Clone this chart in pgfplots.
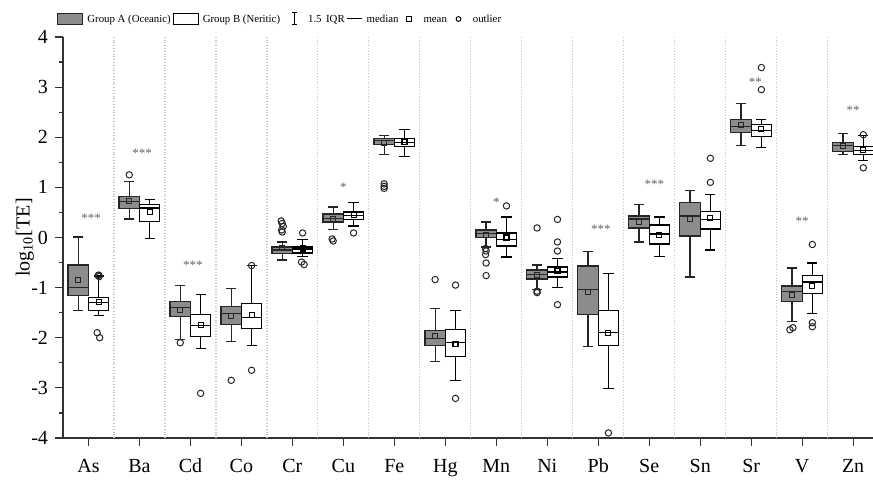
\documentclass[border=0pt]{standalone}
\usepackage{fontspec}
\setmainfont{Liberation Serif}
\usepackage{pgfplots}
\usepackage{pgfplotstable}
\pgfplotsset{compat=1.18}
\usepgfplotslibrary{statistics}
\definecolor{boxA}{RGB}{140,140,140}
\definecolor{starc}{RGB}{100,100,100}
\definecolor{divider}{RGB}{195,195,195}
\pgfplotsset{
  Abox/.style={draw=black!85, line width=0.6pt, fill=boxA, boxplot/draw direction=y, boxplot/box extend=0.4, boxplot/whisker extend=0.2},
  Bbox/.style={draw=black, line width=0.6pt, fill=white, boxplot/draw direction=y, boxplot/box extend=0.4, boxplot/whisker extend=0.2},
}
% style, position, lower whisker, lower quartile, median, upper quartile, upper whisker
\newcommand{\bp}[7]{\addplot[#1, forget plot, boxplot prepared={draw position=#2, lower whisker=#3, lower quartile=#4, median=#5, upper quartile=#6, upper whisker=#7}] coordinates {};}

\pgfplotstableread{
x y
-0.2 -0.85
0.8 0.72
1.8 -1.45
2.8 -1.56
3.8 -0.21
4.8 0.36
5.8 1.88
6.8 -1.97
7.8 0.05
8.8 -0.74
9.8 -1.09
10.8 0.31
11.8 0.36
12.8 2.24
13.8 -1.14
14.8 1.82
}\meanA
\pgfplotstableread{
x y
0.2 -1.29
1.2 0.50
2.2 -1.75
3.2 -1.54
4.2 -0.22
5.2 0.44
6.2 1.90
7.2 -2.12
8.2 0.00
9.2 -0.67
10.2 -1.90
11.2 0.05
12.2 0.39
13.2 2.16
14.2 -0.96
15.2 1.74
}\meanB
\pgfplotstableread{
x y
0.8 1.25
1.8 -2.10
2.8 -2.85
3.78 0.33
3.80 0.28
3.82 0.22
3.79 0.15
3.80 0.11
4.78 -0.03
4.80 -0.07
5.80 1.07
5.80 1.02
5.80 0.98
6.8 -0.84
7.79 -0.22
7.80 -0.27
7.79 -0.34
7.80 -0.51
7.80 -0.76
8.8 0.19
8.8 -1.07
8.8 -1.10
13.76 -1.84
13.82 -1.80
}\outA
\pgfplotstableread{
x y
0.20 -0.75
0.21 -0.78
0.19 -0.76
0.17 -1.90
0.22 -2.00
2.2 -3.11
3.2 -0.56
3.2 -2.65
4.2 0.09
4.18 -0.49
4.23 -0.54
5.2 0.09
7.2 -0.95
7.2 -3.21
8.2 0.63
9.2 0.36
9.2 -0.09
9.2 -0.27
9.2 -1.34
10.2 -3.90
12.2 1.58
12.2 1.10
13.2 3.39
13.2 2.95
14.2 -0.14
14.2 -1.70
14.2 -1.78
15.2 2.05
15.2 1.39
}\outB
\pgfplotstableread{
x y s
0.05 0.38 {***}
1.05 1.68 {***}
2.05 -0.55 {***}
5.0 1.00 {*}
8.0 0.71 {*}
10.05 0.16 {***}
11.1 1.06 {***}
13.08 3.09 {**}
14.0 0.33 {**}
15.0 2.54 {**}
}\stars

\begin{document}
\begin{tikzpicture}
\begin{axis}[
  name=ax,
  scale only axis,
  width=405pt, height=200.5pt,
  xmin=-0.5, xmax=15.39,
  ymin=-4, ymax=4,
  axis x line*=bottom, axis y line*=left,
  axis line style={line width=0.6pt, draw=black!80},
  xtick={0,...,15},
  xticklabels={As,Ba,Cd,Co,Cr,Cu,Fe,Hg,Mn,Ni,Pb,Se,Sn,Sr,V,Zn},
  ytick={-4,...,4},
  minor y tick num=1,
  tick align=outside,
  major tick length=4pt, minor tick length=2.2pt,
  tick style={line width=0.6pt, draw=black!80},
  extra x ticks={0.5,1.5,...,14.5},
  extra x tick labels={},
  extra x tick style={grid=major, major tick length=0pt, major grid style={densely dotted, draw=divider, line width=0.6pt}},
  /pgf/number format/assume math mode=true,
  tick label style={font=\fontsize{10}{12}\selectfont},
  xticklabel style={yshift=-3pt},
  ylabel={log\textsubscript{10}[TE]},
  ylabel style={font=\fontsize{10}{12}\selectfont, at={(axis description cs:-0.047,0.5)}, anchor=center},
  clip=false,
  legend columns=-1,
  legend style={draw=none, fill=none, inner sep=0pt,
    at={(axis description cs:-0.0074,1)}, anchor=west, yshift=9pt,
    font=\fontsize{5.4}{6.5}\selectfont,
    /tikz/every even column/.append style={column sep=-1pt}},
]
\addlegendimage{legend image code/.code={\draw[draw=black!85, fill=boxA, line width=0.5pt] (0pt,-2.75pt) rectangle (12.5pt,2.75pt);}}
\addlegendentry{\strut Group A (Oceanic)}
\addlegendimage{legend image code/.code={\draw[draw=black, fill=white, line width=0.5pt] (0pt,-2.75pt) rectangle (12.5pt,2.75pt);}}
\addlegendentry{\strut Group B (Neritic)}
\addlegendimage{legend image code/.code={\path[draw=none] (0pt,0pt) -- (11pt,0pt); \draw[line width=0.5pt, draw=black] (6pt,-3pt)--(6pt,3pt) (4.8pt,3pt)--(7.2pt,3pt) (4.8pt,-3pt)--(7.2pt,-3pt);}}
\addlegendentry{\strut 1.5 \,IQR}
\addlegendimage{legend image code/.code={\draw[line width=0.5pt, draw=black] (0pt,0pt)--(7.5pt,0pt);}}
\addlegendentry{\strut median}
\addlegendimage{legend image code/.code={\path[draw=none] (0pt,0pt) -- (9.5pt,0pt); \draw[line width=0.5pt, draw=black] (3.2pt,-1.1pt) rectangle (5.4pt,1.1pt);}}
\addlegendentry{\strut mean}
\addlegendimage{legend image code/.code={\path[draw=none] (0pt,0pt) -- (10pt,0pt); \draw[line width=0.5pt, draw=black] (4.8pt,0pt) circle (1.2pt);}}
\addlegendentry{\strut outlier}

\bp{Abox}{-0.2}{-1.46}{-1.16}{-1.00}{-0.55}{0.01}
\bp{Bbox}{0.2}{-1.56}{-1.46}{-1.30}{-1.20}{-0.77}
\bp{Abox}{0.8}{0.37}{0.58}{0.72}{0.82}{1.12}
\bp{Bbox}{1.2}{-0.02}{0.32}{0.59}{0.66}{0.75}
\bp{Abox}{1.8}{-2.04}{-1.58}{-1.40}{-1.27}{-0.96}
\bp{Bbox}{2.2}{-2.21}{-1.97}{-1.76}{-1.54}{-1.13}
\bp{Abox}{2.8}{-2.08}{-1.73}{-1.52}{-1.37}{-1.01}
\bp{Bbox}{3.2}{-2.16}{-1.82}{-1.60}{-1.32}{-0.56}
\bp{Abox}{3.8}{-0.45}{-0.32}{-0.25}{-0.19}{-0.09}
\bp{Bbox}{4.2}{-0.38}{-0.31}{-0.23}{-0.19}{-0.04}
\bp{Abox}{4.8}{0.16}{0.31}{0.38}{0.47}{0.61}
\bp{Bbox}{5.2}{0.23}{0.36}{0.44}{0.51}{0.69}
\bp{Abox}{5.8}{1.66}{1.85}{1.93}{1.98}{2.04}
\bp{Bbox}{6.2}{1.62}{1.81}{1.89}{1.98}{2.16}
\bp{Abox}{6.8}{-2.47}{-2.16}{-2.02}{-1.86}{-1.42}
\bp{Bbox}{7.2}{-2.85}{-2.37}{-2.09}{-1.84}{-1.46}
\bp{Abox}{7.8}{-0.19}{0.00}{0.08}{0.15}{0.31}
\bp{Bbox}{8.2}{-0.39}{-0.17}{-0.04}{0.09}{0.41}
\bp{Abox}{8.8}{-1.04}{-0.83}{-0.74}{-0.65}{-0.55}
\bp{Bbox}{9.2}{-0.99}{-0.79}{-0.69}{-0.59}{-0.42}
\bp{Abox}{9.8}{-2.17}{-1.54}{-1.04}{-0.57}{-0.28}
\bp{Bbox}{10.2}{-3.02}{-2.16}{-1.90}{-1.45}{-0.72}
\bp{Abox}{10.8}{-0.09}{0.19}{0.37}{0.43}{0.66}
\bp{Bbox}{11.2}{-0.38}{-0.13}{0.07}{0.25}{0.41}
\bp{Abox}{11.8}{-0.79}{0.03}{0.43}{0.70}{0.94}
\bp{Bbox}{12.2}{-0.25}{0.17}{0.36}{0.52}{0.86}
\bp{Abox}{12.8}{1.84}{2.10}{2.22}{2.35}{2.67}
\bp{Bbox}{13.2}{1.79}{2.01}{2.14}{2.25}{2.36}
\bp{Abox}{13.8}{-1.67}{-1.28}{-1.08}{-0.97}{-0.61}
\bp{Bbox}{14.2}{-1.52}{-1.12}{-0.89}{-0.76}{-0.51}
\bp{Abox}{14.8}{1.65}{1.72}{1.83}{1.89}{2.08}
\bp{Bbox}{15.2}{1.54}{1.65}{1.73}{1.81}{2.04}

\addplot[only marks, mark=square, mark size=1.25pt, mark options={draw=black!85, line width=0.55pt, fill=none}, forget plot] table {\meanA};
\addplot[only marks, mark=square, mark size=1.25pt, mark options={draw=black, line width=0.55pt, fill=none}, forget plot] table {\meanB};
\addplot[only marks, mark=o, mark size=1.6pt, mark options={draw=black!85, line width=0.5pt, fill=none}, forget plot] table {\outA};
\addplot[only marks, mark=o, mark size=1.6pt, mark options={draw=black!85, line width=0.5pt, fill=none}, forget plot] table {\outB};
\addplot[draw=none, mark=none, nodes near coords, point meta=explicit symbolic,
  nodes near coords style={anchor=center, font=\fontsize{6.5}{7}\selectfont, text=starc, inner sep=0pt}, forget plot]
  table[meta=s] {\stars};
\end{axis}
\pgfresetboundingbox
\path[use as bounding box] ([shift={(-31.5pt,-21pt)}]ax.south west) rectangle ([shift={(0pt,18.5pt)}]ax.north east);
\end{tikzpicture}
\end{document}
